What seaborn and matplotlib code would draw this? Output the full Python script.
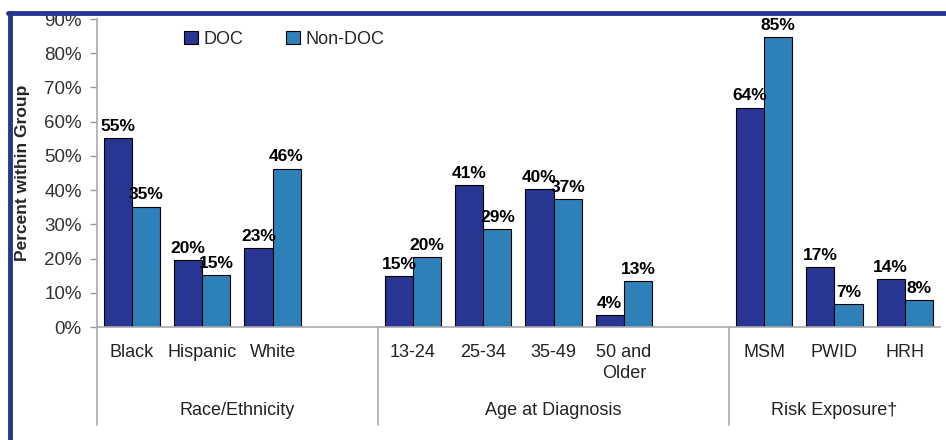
import seaborn as sns
import matplotlib.pyplot as plt
import matplotlib.lines as mlines
import pandas as pd

categories = ["Black", "Hispanic", "White",
              "13-24", "25-34", "35-49", "50 and\nOlder",
              "MSM", "PWID", "HRH"]
doc = [55.1, 19.6, 23.1, 14.8, 41.4, 40.3, 3.6, 64.1, 17.4, 14.0]
non_doc = [35.2, 15.1, 46.3, 20.4, 28.6, 37.4, 13.4, 84.8, 6.7, 7.8]
groups = ["Race/Ethnicity", "Age at Diagnosis", "Risk Exposure\u2020"]

# blank slots between the groups
order = categories[:3] + [" "] + categories[3:7] + ["  "] + categories[7:]

df = pd.DataFrame({
    "cat": categories * 2,
    "pct": doc + non_doc,
    "series": ["DOC"] * len(doc) + ["Non-DOC"] * len(non_doc),
})

sns.set_style("white")
plt.rcParams["font.family"] = ["Liberation Sans", "DejaVu Sans"]

fig = plt.figure(figsize=(9.46, 4.4), dpi=100)
ax = fig.add_axes([0.1025, 0.2568, 0.891, 0.70])

sns.barplot(data=df, x="cat", y="pct", hue="series", order=order,
            palette={"DOC": "#283593", "Non-DOC": "#2e80b8"}, saturation=1,
            width=0.8, edgecolor="black", linewidth=0.8, ax=ax)

for cont in ax.containers:
    ax.bar_label(cont, fmt=lambda v: f"{v:.0f}%", padding=3,
                 fontsize=12.5, fontweight="bold", color="black")

ax.set_xlim(-0.5, len(order) - 0.5)
ax.set_ylim(0, 90)
ax.set_yticks(range(0, 91, 10))
ax.set_yticklabels([f"{v}%" for v in range(0, 91, 10)], fontsize=13.5, color="#333333")
ax.set_xticks(range(len(order)))
ax.set_xticklabels(order, fontsize=13, color="#222222", linespacing=1.3)
ax.tick_params(axis="x", length=0, pad=12)
ax.tick_params(axis="y", length=5, width=1, color="#999999", left=True, pad=6)
ax.set_xlabel("")
ax.set_ylabel("Percent within Group", fontsize=12.5, fontweight="bold", labelpad=10)

for side in ["top", "right"]:
    ax.spines[side].set_visible(False)
for side in ["left", "bottom"]:
    ax.spines[side].set_color("#aaaaaa")
    ax.spines[side].set_linewidth(1.2)

# group separators and group names under the tick labels
trans = ax.get_xaxis_transform()
bounds = [-0.5, 3.5, 8.5, len(order) - 0.5]
for x in bounds[:3]:
    ax.plot([x, x], [0, -0.318], color="#aaaaaa", lw=1.2, transform=trans, clip_on=False)
for name, left, right in zip(groups, bounds[:-1], bounds[1:]):
    ax.text((left + right) / 2, -0.27, name, transform=trans, ha="center", va="center",
            fontsize=13, color="#222222")

ax.legend(loc="upper left", bbox_to_anchor=(0.095, 0.985), ncol=2, frameon=False,
          fontsize=13, handlelength=0.75, handleheight=0.75, handletextpad=0.3,
          columnspacing=2.4, borderaxespad=0)
for h in ax.get_legend().legend_handles:
    h.set_edgecolor("black")
    h.set_linewidth(0.8)

# dark blue frame around the slide (left and top visible)
fig.add_artist(mlines.Line2D([10 / 946, 10 / 946], [0, 1 - 13 / 440], color="#283593", lw=3.5, zorder=10))
fig.add_artist(mlines.Line2D([8 / 946, 1], [1 - 13.5 / 440, 1 - 13.5 / 440], color="#283593", lw=3.5, zorder=10))
fig.patches.append(plt.Rectangle((0, 1 - 12 / 440), 1, 12 / 440, transform=fig.transFigure,
                                 facecolor="white", edgecolor="none", zorder=9))

fig.savefig("out.png", dpi=100)
